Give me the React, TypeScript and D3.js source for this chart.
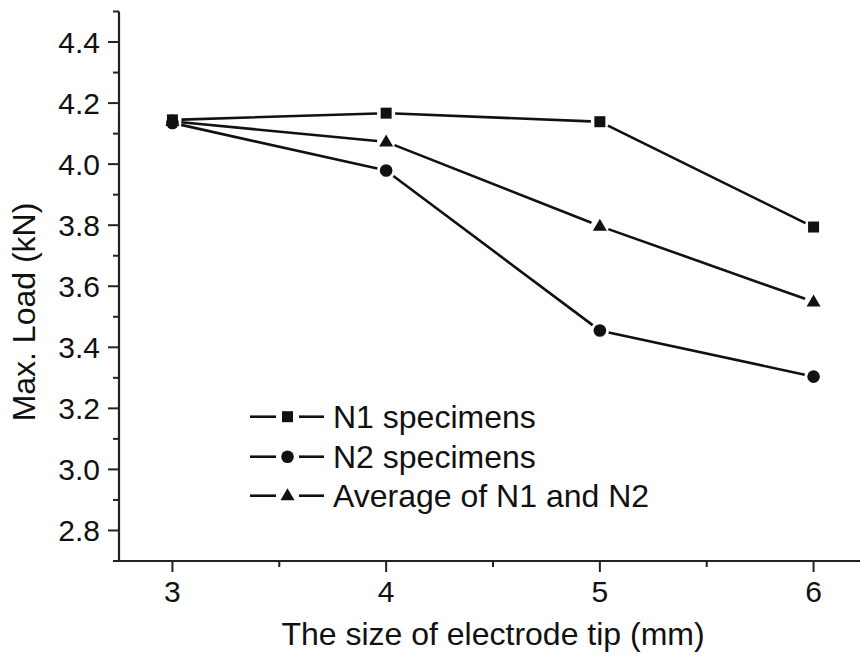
import React from "react";
import * as d3 from "d3";

const sizes = [3, 4, 5, 6];
const n1 = [4.145, 4.167, 4.139, 3.794];
const n2 = [4.135, 3.979, 3.455, 3.304];
const avg = [4.14, 4.073, 3.797, 3.549];
const seriesNames = ["N1 specimens", "N2 specimens", "Average of N1 and N2"];
const markerTypes = ["square", "circle", "triangle"];
const yTicks = [2.8, 3.0, 3.2, 3.4, 3.6, 3.8, 4.0, 4.2, 4.4];
const yMinor = [2.7, 2.9, 3.1, 3.3, 3.5, 3.7, 3.9, 4.1, 4.3, 4.5];
const xTicks = [3, 4, 5, 6];
const xMinor = [3.5, 4.5, 5.5];

const W = 860, H = 664;
const FONT = "Liberation Sans, Arial, sans-serif";
const INK = "#111";

function Marker({ type, x, y }: { type: string; x: number; y: number }) {
  if (type === "square") return <rect x={x - 5.5} y={y - 5.5} width={11} height={11} fill={INK} />;
  if (type === "circle") return <circle cx={x} cy={y} r={6.3} fill={INK} />;
  const h = 12, w = 14;
  return <path d={`M${x},${y - h * 0.62} L${x + w / 2},${y + h * 0.38} L${x - w / 2},${y + h * 0.38} Z`} fill={INK} />;
}

export default function App() {
  const x = d3.scaleLinear().domain([2.75, 6.25]).range([119, 867]);
  const y = d3.scaleLinear().domain([2.7, 4.5]).range([561, 11.5]);
  const data = [n1, n2, avg];
  const gap = 9;

  const segs = (vals: number[]) => {
    const out: string[] = [];
    for (let i = 0; i < vals.length - 1; i++) {
      const x0 = x(sizes[i]), y0 = y(vals[i]), x1 = x(sizes[i + 1]), y1 = y(vals[i + 1]);
      const dx = x1 - x0, dy = y1 - y0, len = Math.hypot(dx, dy);
      const ux = dx / len, uy = dy / len;
      out.push(`M${x0 + ux * gap},${y0 + uy * gap}L${x1 - ux * gap},${y1 - uy * gap}`);
    }
    return out.join("");
  };

  const legendX = 250;
  const legendY = [416.7, 456.7, 495.7];

  return (
    <svg width={W} height={H} style={{ position: "absolute", left: 0, top: 0, background: "#fff" }} fontFamily={FONT}>
      <rect width={W} height={H} fill="#fff" />
      {/* axes */}
      <line x1={x(2.75)} x2={x(2.75)} y1={y(4.5)} y2={y(2.7) + 1} stroke="#222" strokeWidth={2.2} />
      <line x1={x(2.75) - 1} x2={W} y1={y(2.7)} y2={y(2.7)} stroke="#222" strokeWidth={2.2} />
      {yTicks.map((t) => (
        <g key={"y" + t}>
          <line x1={x(2.75) - 11} x2={x(2.75)} y1={y(t)} y2={y(t)} stroke="#222" strokeWidth={2} />
          <text x={100} y={y(t) + 10.5} textAnchor="end" fontSize={30} fill={INK}>{t.toFixed(1)}</text>
        </g>
      ))}
      {yMinor.map((t) => (
        <line key={"ym" + t} x1={x(2.75) - 6} x2={x(2.75)} y1={y(t)} y2={y(t)} stroke="#222" strokeWidth={2} />
      ))}
      {xTicks.map((t) => (
        <g key={"x" + t}>
          <line x1={x(t)} x2={x(t)} y1={y(2.7)} y2={y(2.7) + 11} stroke="#222" strokeWidth={2} />
          <text x={x(t)} y={602} textAnchor="middle" fontSize={30} fill={INK}>{t}</text>
        </g>
      ))}
      {xMinor.map((t) => (
        <line key={"xm" + t} x1={x(t)} x2={x(t)} y1={y(2.7)} y2={y(2.7) + 6} stroke="#222" strokeWidth={2} />
      ))}
      <text x={493} y={645} textAnchor="middle" fontSize={32} fill={INK}>The size of electrode tip (mm)</text>
      <text transform={`translate(35,312) rotate(-90)`} textAnchor="middle" fontSize={32} fill={INK}>Max. Load (kN)</text>

      {/* series */}
      {data.map((vals, si) => (
        <g key={"s" + si}>
          <path d={segs(vals)} stroke={INK} strokeWidth={2.6} fill="none" />
          {vals.map((v, i) => (
            <Marker key={i} type={markerTypes[si]} x={x(sizes[i])} y={y(v)} />
          ))}
        </g>
      ))}

      {/* legend */}
      {seriesNames.map((name, i) => (
        <g key={"l" + i}>
          <line x1={legendX} x2={legendX + 26} y1={legendY[i]} y2={legendY[i]} stroke={INK} strokeWidth={2.6} />
          <Marker type={markerTypes[i]} x={legendX + 37.5} y={legendY[i]} />
          <line x1={legendX + 49} x2={legendX + 74} y1={legendY[i]} y2={legendY[i]} stroke={INK} strokeWidth={2.6} />
          <text x={333} y={legendY[i] + 11} fontSize={32} fill={INK}>{name}</text>
        </g>
      ))}
    </svg>
  );
}
